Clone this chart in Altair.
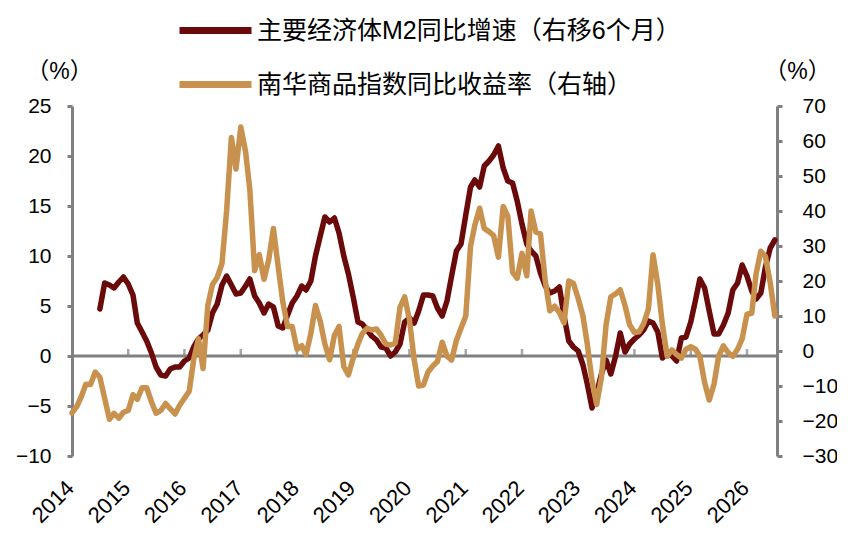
import altair as alt
import pandas as pd

M2_NAME = "主要经济体M2同比增速（右移6个月）"
NH_NAME = "南华商品指数同比收益率（右轴）"
DARK = "#6B0A0A"
TAN = "#C8914E"
GRAY = "#808080"
FONT = "Liberation Sans, Noto Sans CJK SC, sans-serif"

# monthly, starting 2014-07 (M2, shifted 6 months)
m2_values = [
    4.7, 7.3, 7.1, 6.8, 7.4, 7.9, 7.2, 6.1, 3.3, 2.4, 1.5, 0.3,
    -1.1, -1.9, -2.0, -1.3, -1.1, -1.1, -0.5, -0.2, 0.9, 1.7, 2.1, 2.6,
    4.3, 5.2, 7.1, 8.0, 7.1, 6.2, 6.3, 7.0, 7.7, 6.0, 5.3, 4.3,
    5.2, 4.9, 3.0, 2.8, 4.1, 5.3, 6.0, 7.0, 6.6, 7.5, 10.0, 12.0,
    13.9, 13.4, 13.8, 12.3, 10.0, 8.2, 5.9, 3.4, 3.2, 2.6, 2.0, 1.6,
    0.9, 0.8, 0.0, 0.4, 1.2, 3.4, 3.8, 3.3, 4.5, 6.1, 6.1, 6.0,
    4.8, 4.0, 5.5, 8.0, 10.5, 11.2, 14.1, 16.9, 17.6, 16.9, 19.0, 19.5,
    20.1, 21.0, 18.8, 17.5, 17.3, 15.5, 13.2, 11.2, 10.5, 10.0, 8.3, 7.0,
    6.3, 6.5, 6.9, 4.0, 1.5, 0.9, 0.5, -0.9, -2.8, -5.2, -3.7, -1.8,
    -0.4, -1.8, 0.0, 2.3, 0.4, 1.2, 1.7, 2.1, 2.6, 3.5, 3.3, 2.4,
    -0.2, 0.3, 0.0, -0.5, 1.8, 1.9, 3.4, 5.6, 7.7, 6.8, 4.5, 2.2,
    2.2, 3.1, 4.3, 6.6, 7.3, 9.1, 8.0, 6.5, 5.7, 6.3, 8.9, 10.8,
    11.6,
]

# monthly, starting 2014-01 (Nanhua commodity index YoY, right axis)
nh_values = [
    -17.7, -15.9, -13.2, -9.5, -9.6, -6.0, -7.5, -13.5, -19.5, -17.8, -19.2, -17.5,
    -17.0, -12.5, -13.8, -10.5, -10.5, -14.5, -17.8, -17.0, -15.0, -16.5, -18.0, -15.5,
    -13.5, -11.5, -2.5, 3.5, -5.0, 13.0, 19.0, 21.0, 25.0, 40.0, 61.0, 52.0,
    64.0, 57.0, 46.0, 23.0, 27.5, 20.5, 26.0, 35.0, 24.0, 14.0, 7.0, 7.0,
    0.5, 1.5, -1.0, 5.0, 13.0, 8.5, 2.0, -2.5, 4.5, 7.0, -4.5, -6.8,
    -2.0, 2.0, 5.0, 6.5, 6.0, 6.3, 4.5, 2.0, 1.7, 2.2, 12.5, 15.5,
    9.0, -2.5, -10.0, -9.7, -6.0, -4.3, -3.0, 2.5, -1.5, -2.6, 3.0, 6.5,
    10.0, 30.0, 36.0, 40.8, 35.0, 34.1, 33.0, 26.8, 41.3, 38.5, 22.5, 20.8,
    27.9, 21.5, 40.0, 34.0, 33.5, 20.0, 11.5, 12.8, 11.0, 8.0, 20.0, 19.3,
    15.0, 10.0, 2.0, -8.5, -15.3, -7.5, 7.5, 15.5, 16.3, 17.5, 13.0, 7.5,
    5.3, 5.5, 7.8, 12.0, 27.5, 19.0, 7.5, -1.5, 0.3, -1.0, -2.0, 0.5,
    1.2, 0.5, -1.5, -9.0, -14.0, -9.5, -1.5, 1.5, -0.5, -1.5, 0.5, 3.5,
    10.5, 10.8, 22.0, 28.5, 27.0, 19.5, 10.0,
]

years = list(range(2014, 2027))
left_ticks = [-10, -5, 0, 5, 10, 15, 20, 25]
right_ticks = [-30, -20, -10, 0, 10, 20, 30, 40, 50, 60, 70]

m2_dates = pd.date_range("2014-07-01", periods=len(m2_values), freq="MS").strftime("%Y-%m-%d")
nh_dates = pd.date_range("2014-01-01", periods=len(nh_values), freq="MS").strftime("%Y-%m-%d")

df = pd.concat([
    pd.DataFrame({"date": m2_dates, "value": m2_values, "series": M2_NAME}),
    pd.DataFrame({"date": nh_dates, "value": nh_values, "series": NH_NAME}),
], ignore_index=True)

year_df = pd.DataFrame({"date": [f"{y}-01-01" for y in years[1:]], "value": 0})
zero_df = pd.DataFrame({"value": [0]})

x_scale = alt.Scale(
    type="utc",
    domain=[alt.DateTime(year=2014, month=1, date=1, utc=True),
            alt.DateTime(year=2026, month=7, date=15, utc=True)],
)
x_axis = alt.Axis(
    values=[alt.DateTime(year=y, month=1, date=1, utc=True) for y in years],
    format="%Y", labelAngle=-45, domain=False, ticks=False, grid=False,
    labelPadding=21, labelOffset=-9, title=None, labelFontSize=22,
)

color = alt.Color(
    "series:N",
    scale=alt.Scale(domain=[M2_NAME, NH_NAME], range=[DARK, TAN]),
    legend=alt.Legend(
        title=None, orient="none", legendX=104, legendY=-115, direction="vertical",
        symbolType="stroke", symbolSize=5184, symbolStrokeWidth=7,
        labelFontSize=25, labelFont=FONT, labelColor="black", labelOffset=2,
        rowPadding=-7, labelLimit=700,
    ),
)

left_y = alt.Scale(domain=[-10, 25], nice=False, zero=False)
right_y = alt.Scale(domain=[-30, 70], nice=False, zero=False)

left_axis = alt.Axis(
    values=left_ticks, title="（%）", titleAngle=0, titleX=-13, titleY=-35,
    titleAlign="center", titleBaseline="middle", labelPadding=16, tickSize=5,
    orient="left",
)
right_axis = alt.Axis(
    values=right_ticks, title="（%）", titleAngle=0, titleX=20, titleY=-35,
    titleAlign="center", titleBaseline="middle", labelPadding=20, tickSize=5,
    orient="right",
)

zero_rule = alt.Chart(zero_df).mark_rule(color=GRAY, strokeWidth=3).encode(
    y=alt.Y("value:Q", scale=left_y, axis=left_axis)
)

year_ticks = alt.Chart(year_df).mark_tick(
    color=GRAY, orient="vertical", size=8, thickness=2.5, yOffset=-3
).encode(
    x=alt.X("date:T", scale=x_scale, axis=x_axis),
    y=alt.Y("value:Q", scale=left_y, axis=left_axis),
)

m2_line = alt.Chart(df).transform_filter(alt.datum.series == M2_NAME).mark_line(
    strokeWidth=5.5, strokeJoin="round", strokeCap="round"
).encode(
    x=alt.X("date:T", scale=x_scale, axis=x_axis),
    y=alt.Y("value:Q", scale=left_y, axis=left_axis),
    color=color,
)

nh_line = alt.Chart(df).transform_filter(alt.datum.series == NH_NAME).mark_line(
    strokeWidth=5.5, strokeJoin="round", strokeCap="round"
).encode(
    x=alt.X("date:T", scale=x_scale, axis=x_axis),
    y=alt.Y("value:Q", scale=right_y, axis=right_axis),
    color=color,
)

left_layer = alt.layer(zero_rule, year_ticks, m2_line)

chart = alt.layer(left_layer, nh_line).resolve_scale(y="independent").properties(
    width=705, height=350,
    autosize=alt.AutoSizeParams(type="none"),
    padding={"left": 64, "top": 98, "right": 60, "bottom": 80},
).configure_view(stroke=None).configure_axis(
    domainColor=GRAY, domainWidth=3, tickColor=GRAY, tickWidth=3,
    labelFont=FONT, labelFontSize=21, labelColor="black",
    titleFont=FONT, titleFontSize=23, titleFontWeight="normal", titleColor="black",
    grid=False,
)

chart.save("out.html", embed_options={"renderer": "svg", "actions": False})
